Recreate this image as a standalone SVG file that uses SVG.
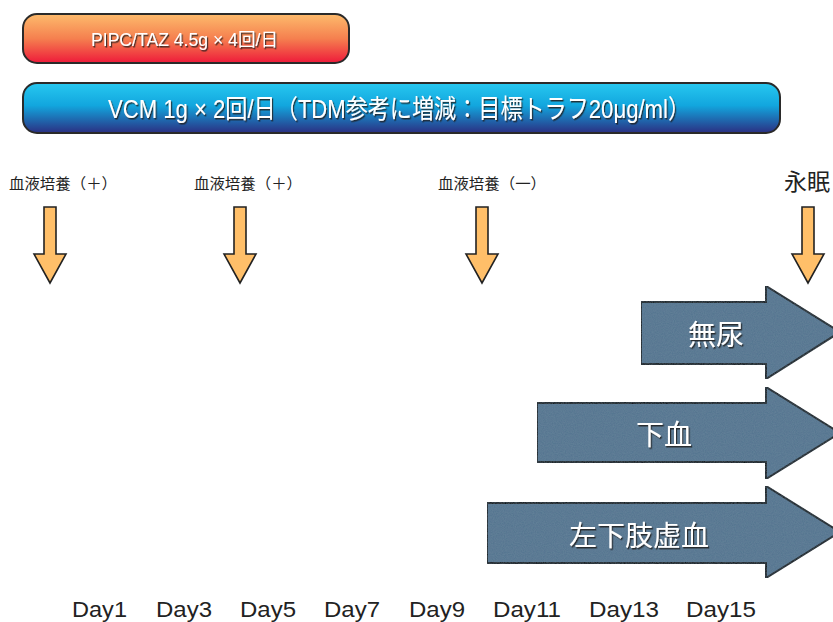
<svg xmlns="http://www.w3.org/2000/svg" width="833" height="622" viewBox="0 0 833 622">
<defs>
<linearGradient id="gOrange" x1="0" y1="0" x2="0" y2="1">
<stop offset="0" stop-color="#FDBB6C"/>
<stop offset="0.5" stop-color="#F5804F"/>
<stop offset="1" stop-color="#EE1A3A"/>
</linearGradient>
<linearGradient id="gBlue" x1="0" y1="0" x2="0" y2="1">
<stop offset="0" stop-color="#27C8F0"/>
<stop offset="0.45" stop-color="#12A6DE"/>
<stop offset="1" stop-color="#2B2F82"/>
</linearGradient>
<filter id="shadow" x="-10%" y="-30%" width="120%" height="160%">
<feDropShadow dx="1.2" dy="1.5" stdDeviation="0.6" flood-color="#1a1a1a" flood-opacity="0.85"/>
</filter>
<filter id="texture" x="0" y="0" width="100%" height="100%">
<feTurbulence type="fractalNoise" baseFrequency="0.9" numOctaves="2" seed="3" result="n"/>
<feColorMatrix in="n" type="matrix" values="0 0 0 0 0.32  0 0 0 0 0.45  0 0 0 0 0.56  0 0 0 0.18 0" result="c"/>
<feComposite in="c" in2="SourceGraphic" operator="in" result="t"/>
<feMerge><feMergeNode in="SourceGraphic"/><feMergeNode in="t"/></feMerge>
</filter>
</defs>
<style>
.bar{stroke:#2a2a2a;stroke-width:2}
.bartxt{font-family:"Liberation Sans","Noto Sans CJK JP",sans-serif;fill:#ffffff}
.lbl{font-family:"Noto Sans CJK JP",sans-serif;fill:#222222;font-size:15px}
.down{fill:#FFBF69;stroke:#222222;stroke-width:1.6;stroke-linejoin:miter}
.block{fill:#52738E;stroke:#111111;stroke-width:2}
.blocktxt{font-family:"Noto Sans CJK JP",sans-serif;fill:#ffffff;text-anchor:middle;font-size:28px}
.day{font-family:"Liberation Sans",Arial,sans-serif;fill:#222222;font-size:22px}
</style>

<g id="pipc">
<rect class="bar" x="23" y="14" width="326" height="49" rx="14" fill="url(#gOrange)"/>
<text class="bartxt" x="91" y="46" font-size="18" textLength="187" lengthAdjust="spacingAndGlyphs" filter="url(#shadow)">PIPC/TAZ 4.5g × 4回/日</text>
</g>

<g id="vcm">
<rect class="bar" x="23" y="83" width="757" height="50" rx="14" fill="url(#gBlue)"/>
<text class="bartxt" x="108" y="118" font-size="26" textLength="582" lengthAdjust="spacingAndGlyphs" filter="url(#shadow)">VCM 1g × 2回/日（TDM参考に増減：目標トラフ20μg/ml）</text>
</g>

<g id="culture1">
<text class="lbl" x="9" y="189" textLength="108" lengthAdjust="spacingAndGlyphs">血液培養（＋）</text>
<path class="down" d="M44,207 H56 V254 H66 L50,283 L34,254 H44 Z"/>
</g>
<g id="culture2">
<text class="lbl" x="194" y="189" textLength="108" lengthAdjust="spacingAndGlyphs">血液培養（＋）</text>
<path class="down" d="M234,207 H246 V254 H256 L240,283 L224,254 H234 Z"/>
</g>
<g id="culture3">
<text class="lbl" x="438" y="189" textLength="108" lengthAdjust="spacingAndGlyphs">血液培養（一）</text>
<path class="down" d="M476,207 H488 V254 H498 L482,283 L466,254 H476 Z"/>
</g>
<g id="death">
<text x="784" y="190" font-family="Noto Sans CJK JP, sans-serif" font-size="23" fill="#222222">永眠</text>
<path class="down" d="M802,207 H814 V254 H824 L808,283 L792,254 H802 Z"/>
</g>

<g id="anuria">
<path class="block" filter="url(#texture)" d="M641,302 H766 V286 L840,332 L766,379 V364 H641 Z"/>
<text class="blocktxt" x="716" y="345" filter="url(#shadow)">無尿</text>
</g>
<g id="melena">
<path class="block" filter="url(#texture)" d="M537,403 H766 V387 L840,433 L766,479 V462 H537 Z"/>
<text class="blocktxt" x="664" y="445" filter="url(#shadow)">下血</text>
</g>
<g id="ischemia">
<path class="block" filter="url(#texture)" d="M487,503 H766 V486 L840,532 L766,578 V563 H487 Z"/>
<text class="blocktxt" x="639" y="546" font-size="29" filter="url(#shadow)">左下肢虚血</text>
</g>

<g id="days">
<text class="day" x="72" y="617" textLength="55" lengthAdjust="spacingAndGlyphs">Day1</text>
<text class="day" x="156" y="617" textLength="56" lengthAdjust="spacingAndGlyphs">Day3</text>
<text class="day" x="240" y="617" textLength="56" lengthAdjust="spacingAndGlyphs">Day5</text>
<text class="day" x="324" y="617" textLength="56" lengthAdjust="spacingAndGlyphs">Day7</text>
<text class="day" x="409" y="617" textLength="56" lengthAdjust="spacingAndGlyphs">Day9</text>
<text class="day" x="493" y="617" textLength="68" lengthAdjust="spacingAndGlyphs">Day11</text>
<text class="day" x="589" y="617" textLength="70" lengthAdjust="spacingAndGlyphs">Day13</text>
<text class="day" x="686" y="617" textLength="70" lengthAdjust="spacingAndGlyphs">Day15</text>
</g>
<g id="connectors"></g>
</svg>
